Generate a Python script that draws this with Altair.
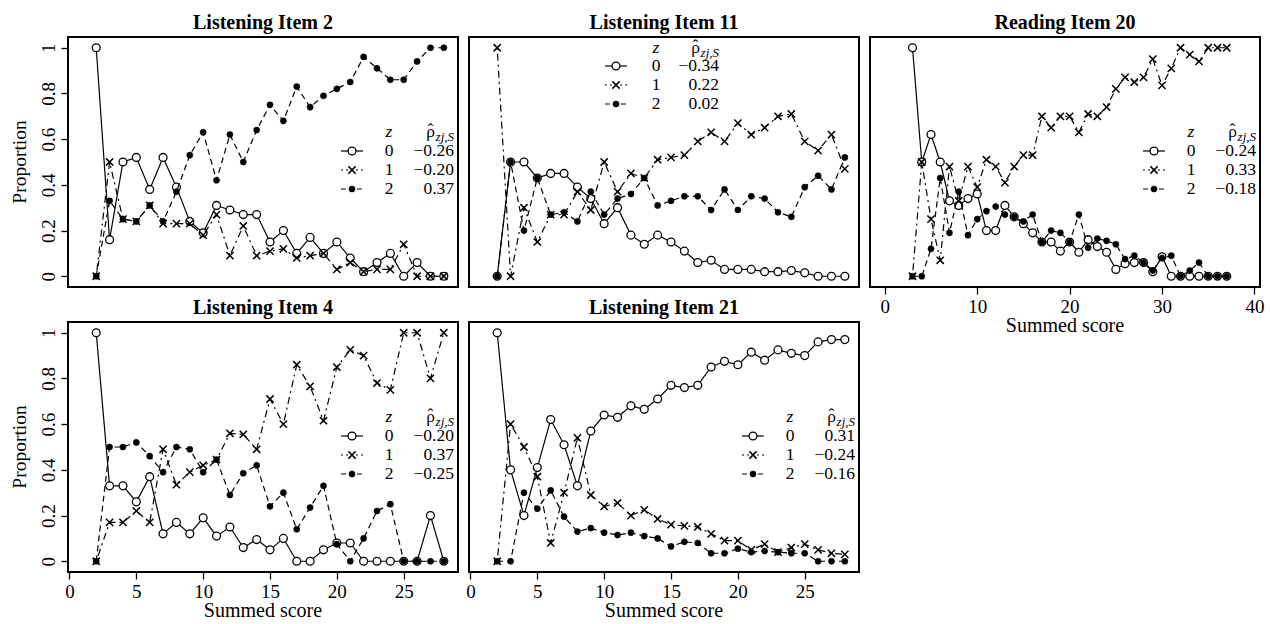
import altair as alt
import pandas as pd

FONT = "Liberation Serif"

# ---------------- data ----------------
SCORES_28 = [2, 3, 4, 5, 6, 7, 8, 9, 10, 11, 12, 13, 14, 15, 16, 17, 18, 19, 20,
             21, 22, 23, 24, 25, 26, 27, 28]
SCORES_37 = [3, 4, 5, 6, 7, 8, 9, 10, 11, 12, 13, 14, 15, 16, 17, 18, 19, 20, 21,
             22, 23, 24, 25, 26, 27, 28, 29, 30, 31, 32, 33, 34, 35, 36, 37]

Z_LABELS = ["0", "1", "2"]

# Listening Item 2
L2_Z0 = [1.00, 0.16, 0.50, 0.52, 0.38, 0.52, 0.39, 0.24, 0.19, 0.31, 0.29, 0.27, 0.27, 0.15,
         0.20, 0.10, 0.17, 0.10, 0.15, 0.08, 0.02, 0.06, 0.10, 0.00, 0.06, 0.00, 0.00]
L2_Z1 = [0.00, 0.50, 0.25, 0.24, 0.31, 0.23, 0.23, 0.23, 0.18, 0.27, 0.09, 0.22, 0.09, 0.11,
         0.12, 0.08, 0.09, 0.10, 0.03, 0.06, 0.02, 0.03, 0.03, 0.14, 0.00, 0.00, 0.00]
L2_Z2 = [0.00, 0.33, 0.25, 0.24, 0.31, 0.24, 0.37, 0.53, 0.63, 0.42, 0.62, 0.50, 0.64, 0.75,
         0.68, 0.83, 0.74, 0.79, 0.82, 0.85, 0.96, 0.91, 0.86, 0.86, 0.94, 1.00, 1.00]
L2_RHO = ["\u22120.26", "\u22120.20", "0.37"]

# Listening Item 11
L11_Z0 = [0.00, 0.50, 0.50, 0.43, 0.45, 0.45, 0.39, 0.34, 0.23, 0.30, 0.18, 0.14, 0.18, 0.15,
          0.11, 0.06, 0.07, 0.03, 0.03, 0.03, 0.02, 0.02, 0.025, 0.015, 0.00, 0.00, 0.00]
L11_Z1 = [1.00, 0.00, 0.30, 0.15, 0.27, 0.27, 0.37, 0.29, 0.50, 0.37, 0.45, 0.43, 0.51, 0.52,
          0.53, 0.59, 0.63, 0.59, 0.67, 0.62, 0.65, 0.70, 0.71, 0.59, 0.55, 0.62, 0.47]
L11_Z2 = [0.00, 0.50, 0.20, 0.43, 0.27, 0.28, 0.24, 0.37, 0.27, 0.34, 0.36, 0.43, 0.31, 0.33,
          0.35, 0.35, 0.29, 0.38, 0.29, 0.35, 0.34, 0.28, 0.26, 0.39, 0.44, 0.38, 0.52]
L11_RHO = ["\u22120.34", "0.22", "0.02"]

# Reading Item 20
R20_Z0 = [1.00, 0.50, 0.62, 0.50, 0.33, 0.31, 0.34, 0.36, 0.20, 0.20, 0.31, 0.26, 0.23, 0.19,
          0.15, 0.15, 0.11, 0.15, 0.105, 0.16, 0.13, 0.105, 0.03, 0.055, 0.06, 0.06, 0.02,
          0.085, 0.00, 0.00, 0.00, 0.00, 0.00, 0.00, 0.00]
R20_Z1 = [0.00, 0.50, 0.25, 0.07, 0.48, 0.33, 0.48, 0.39, 0.51, 0.48, 0.41, 0.48, 0.53, 0.53,
          0.70, 0.65, 0.70, 0.70, 0.63, 0.71, 0.70, 0.74, 0.82, 0.87, 0.85, 0.87, 0.95,
          0.835, 0.91, 1.00, 0.97, 0.94, 1.00, 1.00, 1.00]
R20_Z2 = [0.00, 0.00, 0.12, 0.43, 0.19, 0.37, 0.18, 0.25, 0.285, 0.305, 0.27, 0.26, 0.24, 0.27,
          0.15, 0.20, 0.19, 0.15, 0.27, 0.125, 0.165, 0.155, 0.14, 0.075, 0.09, 0.06, 0.025,
          0.08, 0.09, 0.00, 0.025, 0.06, 0.00, 0.00, 0.00]
R20_RHO = ["\u22120.24", "0.33", "\u22120.18"]

# Listening Item 4
L4_Z0 = [1.00, 0.33, 0.33, 0.26, 0.37, 0.12, 0.17, 0.12, 0.19, 0.11, 0.15, 0.06, 0.095, 0.05,
         0.10, 0.00, 0.00, 0.05, 0.08, 0.08, 0.00, 0.00, 0.00, 0.00, 0.00, 0.20, 0.00]
L4_Z1 = [0.00, 0.17, 0.17, 0.22, 0.17, 0.49, 0.335, 0.39, 0.42, 0.445, 0.56, 0.555, 0.49, 0.71,
         0.60, 0.86, 0.765, 0.615, 0.85, 0.925, 0.90, 0.78, 0.75, 1.00, 1.00, 0.80, 1.00]
L4_Z2 = [0.00, 0.50, 0.50, 0.52, 0.46, 0.39, 0.50, 0.49, 0.39, 0.445, 0.29, 0.385, 0.42, 0.24,
         0.30, 0.14, 0.235, 0.33, 0.075, 0.00, 0.10, 0.22, 0.25, 0.00, 0.00, 0.00, 0.00]
L4_RHO = ["\u22120.20", "0.37", "\u22120.25"]

# Listening Item 21
L21_Z0 = [1.00, 0.40, 0.20, 0.41, 0.62, 0.51, 0.33, 0.57, 0.64, 0.63, 0.68, 0.665, 0.71, 0.77,
          0.76, 0.77, 0.85, 0.875, 0.86, 0.915, 0.88, 0.925, 0.91, 0.90, 0.96, 0.97, 0.97]
L21_Z1 = [0.00, 0.60, 0.50, 0.37, 0.08, 0.30, 0.54, 0.29, 0.24, 0.255, 0.20, 0.225, 0.185, 0.16,
          0.155, 0.15, 0.12, 0.09, 0.09, 0.05, 0.075, 0.04, 0.06, 0.075, 0.05, 0.035, 0.03]
L21_Z2 = [0.00, 0.00, 0.30, 0.23, 0.31, 0.195, 0.13, 0.145, 0.125, 0.115, 0.125, 0.11, 0.10, 0.065,
          0.085, 0.08, 0.035, 0.035, 0.055, 0.04, 0.045, 0.04, 0.035, 0.035, 0.00, 0.00, 0.00]
L21_RHO = ["0.31", "\u22120.24", "\u22120.16"]

Y_TICKS = [0, 0.2, 0.4, 0.6, 0.8, 1]
X_TICKS_28 = [0, 5, 10, 15, 20, 25]
X_TICKS_40 = [0, 10, 20, 30, 40]

# ---------------- layout / style ----------------
W, H = 390, 250
Y_DOMAIN = [-0.047, 1.047]
X_DOMAIN_28 = [-0.11, 29.06]
X_DOMAIN_40 = [-1.6, 40.6]
X_PATH = "M-1,-1L1,1M-1,1L1,-1"
DASHES = [None, [2, 4, 7, 4], [6, 4]]
ONE = pd.DataFrame({"k": [0]})

LEG_RIGHT = dict(sym=284, digit=321, right=386, header=95, rows=[114, 133, 152])
LEG_TOP = dict(sym=147, digit=187, right=250, header=11, rows=[29, 48, 67])


def point_mark(i):
    if i == 0:
        return dict(shape="circle", filled=True, fill="white", stroke="black",
                    strokeWidth=1.3, size=62, opacity=1)
    if i == 1:
        return dict(shape=X_PATH, filled=False, stroke="black", strokeWidth=1.5,
                    size=52, opacity=1)
    return dict(shape="circle", filled=True, fill="black", stroke="black",
                strokeWidth=0.5, size=38, opacity=1)


def line_kw(i):
    kw = dict(color="black", strokeWidth=1.2)
    if DASHES[i] is not None:
        kw["strokeDash"] = DASHES[i]
    return kw


def text_layer(txt, x, y, size=17.5, align="center", baseline="middle", style=None,
               angle=None, weight=None):
    kw = dict(text=txt, font=FONT, fontSize=size, align=align, baseline=baseline, color="black")
    if style:
        kw["fontStyle"] = style
    if weight:
        kw["fontWeight"] = weight
    if angle is not None:
        kw["angle"] = angle
    return alt.Chart(ONE).mark_text(**kw).encode(x=alt.value(x), y=alt.value(y))


def legend_layers(rho, leg):
    out = []
    out.append(text_layer("z", leg["digit"], leg["header"], style="italic"))
    rx = leg["right"] - 19
    out.append(text_layer("\u03c1", rx, leg["header"], align="right"))
    out.append(text_layer("\u02c6", rx - 4.5, leg["header"] - 2, size=17.5))
    out.append(text_layer("zj,S", leg["right"], leg["header"] + 5, size=13,
                          align="right", style="italic"))
    for i, (zl, r) in enumerate(zip(Z_LABELS, rho)):
        y = leg["rows"][i]
        rule_kw = dict(color="black", strokeWidth=1.2)
        if DASHES[i] is not None:
            rule_kw["strokeDash"] = [2, 3] if i == 1 else [5, 3]
        out.append(alt.Chart(ONE).mark_rule(**rule_kw).encode(
            x=alt.value(leg["sym"] - 11), x2=alt.value(leg["sym"] + 11), y=alt.value(y)))
        out.append(alt.Chart(ONE).mark_point(**point_mark(i)).encode(
            x=alt.value(leg["sym"]), y=alt.value(y)))
        out.append(text_layer(zl, leg["digit"], y))
        out.append(text_layer(r, leg["right"], y, align="right"))
    return out


def make_panel(title, scores, series, rho, xdomain, xticks, show_x, show_y, leg):
    xscale = alt.Scale(domain=xdomain, nice=False, zero=False)
    yscale = alt.Scale(domain=Y_DOMAIN, nice=False, zero=False)
    if show_x:
        xaxis = alt.Axis(values=xticks, title=None, format="d", labelBaseline="alphabetic",
                         labelPadding=18, labelFontSize=19)
    else:
        xaxis = None
    if show_y:
        yaxis = alt.Axis(values=Y_TICKS, title=None, format="~g", labelAngle=270,
                         labelAlign="center", labelBaseline="alphabetic",
                         labelPadding=7, labelFontSize=19)
    else:
        yaxis = None
    layers = []
    for i, vals in enumerate(series):
        df = pd.DataFrame({"score": scores, "prop": vals, "z": Z_LABELS[i]})
        enc = dict(x=alt.X("score:Q", scale=xscale, axis=xaxis),
                   y=alt.Y("prop:Q", scale=yscale, axis=yaxis))
        layers.append(alt.Chart(df).mark_line(**line_kw(i)).encode(**enc))
        layers.append(alt.Chart(df).mark_point(**point_mark(i)).encode(**enc))
    layers += legend_layers(rho, leg)
    layers.append(text_layer(title, W / 2, -8, size=20, baseline="alphabetic", weight="bold"))
    if show_x:
        layers.append(text_layer("Summed score", W / 2, H + 45, size=20, baseline="alphabetic"))
    if show_y:
        layers.append(text_layer("Proportion", -42, H / 2, size=19.5, baseline="alphabetic",
                                 angle=270))
    return alt.layer(*layers).properties(width=W, height=H)


p1 = make_panel("Listening Item 2", SCORES_28, [L2_Z0, L2_Z1, L2_Z2], L2_RHO,
                X_DOMAIN_28, X_TICKS_28, False, True, LEG_RIGHT)
p2 = make_panel("Listening Item 11", SCORES_28, [L11_Z0, L11_Z1, L11_Z2], L11_RHO,
                X_DOMAIN_28, X_TICKS_28, False, False, LEG_TOP)
p3 = make_panel("Reading Item 20", SCORES_37, [R20_Z0, R20_Z1, R20_Z2], R20_RHO,
                X_DOMAIN_40, X_TICKS_40, True, False, LEG_RIGHT)
p4 = make_panel("Listening Item 4", SCORES_28, [L4_Z0, L4_Z1, L4_Z2], L4_RHO,
                X_DOMAIN_28, X_TICKS_28, True, True, LEG_RIGHT)
p5 = make_panel("Listening Item 21", SCORES_28, [L21_Z0, L21_Z1, L21_Z2], L21_RHO,
                X_DOMAIN_28, X_TICKS_28, True, False, LEG_RIGHT)

chart = alt.concat(p1, p2, p3, p4, p5, columns=3, spacing=alt.RowColnumber(row=35, column=11),
                   bounds="flush").properties(
    padding={"left": 9, "top": 12, "right": 5, "bottom": 5},
    background="white",
).configure_view(
    stroke="black", strokeWidth=2
).configure_axis(
    labelFont=FONT, labelColor="black", tickColor="black", tickWidth=1.3, tickSize=7,
    domain=False, grid=False
)

chart.save("out.html", embed_options={"renderer": "svg", "actions": False})
